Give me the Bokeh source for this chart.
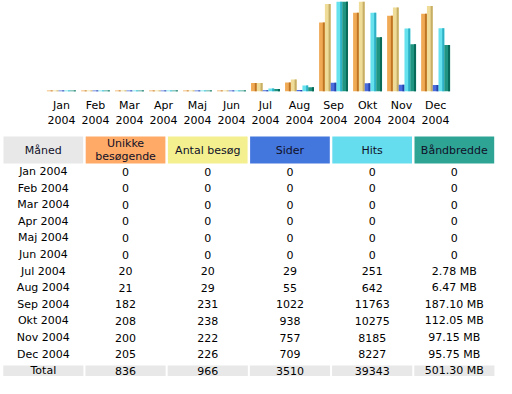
from bokeh.plotting import figure
from bokeh.models import ColumnDataSource, FactorRange, Range1d
from bokeh.layouts import column
from bokeh.transform import dodge
from bokeh.core.properties import value
from bokeh.embed import file_html
from bokeh.resources import INLINE

# ---------------- data ----------------
months = ["Jan", "Feb", "Mar", "Apr", "Maj", "Jun", "Jul", "Aug", "Sep", "Okt", "Nov", "Dec"]
year = "2004"
visitors = [0, 0, 0, 0, 0, 0, 20, 21, 182, 208, 200, 205]
visits = [0, 0, 0, 0, 0, 0, 20, 29, 231, 238, 222, 226]
pages = [0, 0, 0, 0, 0, 0, 29, 55, 1022, 938, 757, 709]
hits = [0, 0, 0, 0, 0, 0, 251, 642, 11763, 10275, 8185, 8227]
bandwidth_mb = [0, 0, 0, 0, 0, 0, 2.78, 6.47, 187.10, 112.05, 97.15, 95.75]
headers = ["Måned", "Unikke\nbesøgende", "Antal besøg", "Sider", "Hits", "Båndbredde"]
total_label = "Total"

FONT = value("DejaVu Sans")
header_colors = ["#E8E8E8", "#FFAA66", "#F4F090", "#4477DD", "#66DDEE", "#2EA495"]

W = 496

# ---------------- chart ----------------
labels = [f"{m}\n{year}" for m in months]
src = ColumnDataSource(dict(label=labels, visitors=visitors, visits=visits,
                            pages=pages, hits=hits, bw=bandwidth_mb))

eps = 0.012
vmax = max(visits)
hmax = max(hits)
bmax = max(bandwidth_mb)

chart = figure(x_range=FactorRange(factors=labels, range_padding=1.29,
                                   range_padding_units="absolute"),
               y_range=Range1d(-vmax * eps, vmax),
               width=W, height=130, output_backend="svg", toolbar_location=None,
               min_border_left=0, min_border_right=0, min_border_top=1,
               min_border_bottom=34, y_axis_location=None)
chart.extra_y_ranges = {"hits": Range1d(-hmax * eps, hmax),
                        "bw": Range1d(-bmax * eps, bmax)}

series = [
    ("visitors", -0.34, "default", -vmax * eps, "#F0AA55", "#BE7422"),
    ("visits", -0.17, "default", -vmax * eps, "#EEDC98", "#C6AE66"),
    ("pages", 0.0, "hits", -hmax * eps, "#4A6CDD", "#2244AA"),
    ("hits", 0.17, "hits", -hmax * eps, "#66E2EE", "#2EB0C6"),
    ("bw", 0.34, "bw", -bmax * eps, "#1F9582", "#0A6A5A"),
]
bar_w = 0.17
for field, off, rname, base, col, dark in series:
    chart.vbar(x=dodge("label", off, range=chart.x_range), top=field, bottom=base,
               width=bar_w, source=src, fill_color=col, line_color=None,
               y_range_name=rname)
    chart.vbar(x=dodge("label", off + 0.055, range=chart.x_range), top=field, bottom=base,
               width=0.06, source=src, fill_color=dark, line_color=None,
               y_range_name=rname)

chart.xaxis.axis_line_color = None
chart.xaxis.major_tick_line_color = None
chart.xaxis.minor_tick_line_color = None
chart.xaxis.major_label_standoff = 1
chart.xaxis.major_label_text_font = "DejaVu Sans"
chart.xaxis.major_label_text_font_size = "11px"
chart.xaxis.major_label_text_color = "#000000"
chart.xgrid.grid_line_color = None
chart.ygrid.grid_line_color = None
chart.outline_line_color = None
chart.background_fill_color = "white"
chart.border_fill_color = "white"

# ---------------- table ----------------
TH = 248
table = figure(width=W, height=TH, x_range=Range1d(0, W), y_range=Range1d(TH, 0),
               output_backend="svg", toolbar_location=None, min_border=0,
               x_axis_location=None, y_axis_location=None)
table.xgrid.grid_line_color = None
table.ygrid.grid_line_color = None
table.outline_line_color = None
table.background_fill_color = "white"
table.border_fill_color = "white"

ncol = len(headers)
left = 3.0
pitch = 82.2
cw = 79.7
col_x = [left + i * pitch + cw / 2 for i in range(ncol)]
head_y = 19.5
row0 = 41.0
row_pitch = 16.6

table.rect(x=col_x, y=[head_y] * ncol, width=cw, height=27,
           fill_color=header_colors, line_color=None)
table.text(x=col_x, y=[head_y] * ncol, text=headers, text_align="center",
           text_baseline="middle", text_font=FONT, text_font_size="11px",
           text_color="#101028", text_line_height=1.05)


def fmt_bw(v):
    return "0" if v == 0 else f"{v:.2f} MB"


rows = []
for i, m in enumerate(months):
    rows.append([f"{m} {year}", str(visitors[i]), str(visits[i]), str(pages[i]),
                 str(hits[i]), fmt_bw(bandwidth_mb[i])])
rows.append([total_label, str(sum(visitors)), str(sum(visits)), str(sum(pages)),
             str(sum(hits)), f"{sum(bandwidth_mb):.2f} MB"])

total_y = row0 + len(months) * row_pitch
table.rect(x=col_x, y=[total_y] * ncol, width=cw + 0.5, height=10.5,
           fill_color="#E8E8E8", line_color=None)

cx, cy, ct = [], [], []
for r, row in enumerate(rows):
    for c, t in enumerate(row):
        cx.append(col_x[c])
        cy.append(row0 + r * row_pitch)
        ct.append(t)
table.text(x=cx, y=cy, text=ct, text_align="center", text_baseline="middle",
           text_font=FONT, text_font_size="11px", text_color="#000000")

p = column(chart, table, spacing=0)
open("out.html", "w").write(file_html(p, INLINE))
